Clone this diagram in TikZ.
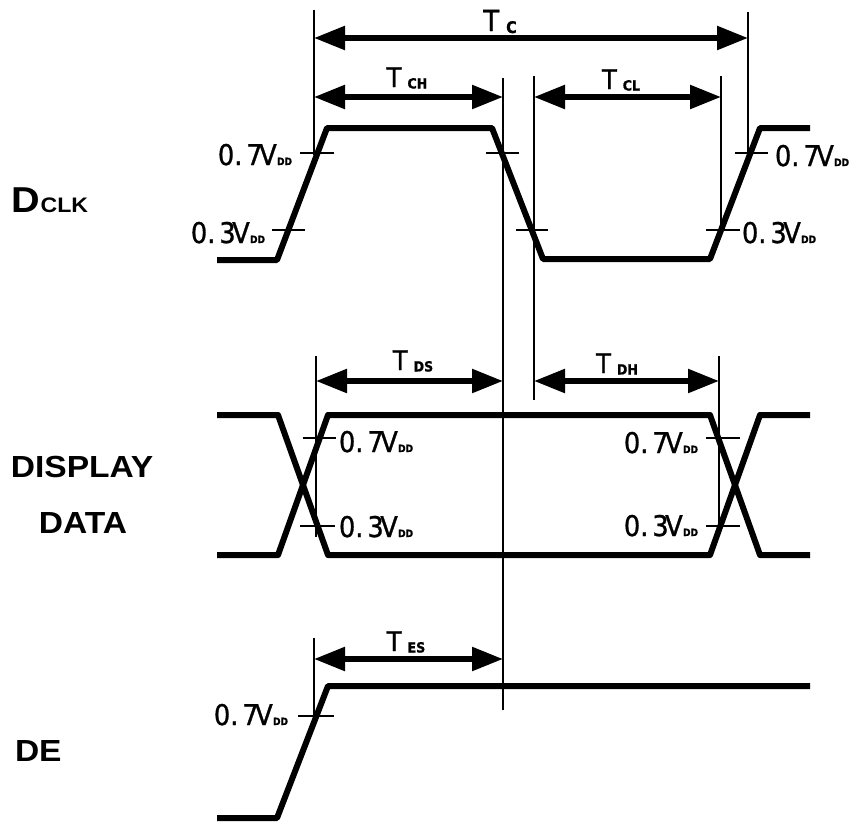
\documentclass[tikz,border=0pt]{standalone}
\usepackage{fontspec}
\usetikzlibrary{arrows.meta}
\newfontfamily\sigfont{Liberation Sans}[FakeStretch=1.1]
\newfontfamily\tmfont{DejaVu Sans}[FakeStretch=0.9,FakeBold=1]
\newcommand\myvdd[1]{{\tmfont\fontsize{28.5}{28.5}\selectfont 0.\kern4pt#1\kern-3.5pt V\kern0.3pt{\bfseries\fontsize{10}{10}\selectfont DD}}}
\newcommand\mytlab[1]{{\tmfont\fontsize{27}{27}\selectfont T\kern6pt\raisebox{-1.5pt}{\bfseries\fontsize{14}{14}\selectfont #1}}}
\begin{document}
\begin{tikzpicture}[x=1pt,y=-1pt,
  sig/.style={line width=6pt,line join=round},
  guide/.style={line width=1.3pt},
  dimarrow/.style={line width=5.5pt,{Triangle[length=31pt,width=23pt]}-{Triangle[length=31pt,width=23pt]}},
  lbl/.style={inner sep=0pt,outer sep=0pt}
]
\useasboundingbox (0,0) rectangle (851,822);

% ---------- left labels ----------
\node[lbl,anchor=base west] (ldclk) at (12,212) {\sigfont\bfseries\fontsize{36}{36}\selectfont D\fontsize{21}{21}\selectfont CLK};
\node[lbl,anchor=base] (ldisp) at (82,477) {\sigfont\bfseries\fontsize{30.5}{30.5}\selectfont DISPLAY};
\node[lbl,anchor=base] (ldata) at (83,533) {\sigfont\bfseries\fontsize{30.5}{30.5}\selectfont DATA};
\node[lbl,anchor=base west] (lde) at (15,761) {\sigfont\bfseries\fontsize{30.5}{30.5}\selectfont DE};

% ---------- guide lines ----------
\coordinate (gA1) at (314,10);  \coordinate (gA2) at (314,155);
\coordinate (gB1) at (748,12);  \coordinate (gB2) at (748,155);
\coordinate (gC1) at (503,78);  \coordinate (gC2) at (503,710);
\coordinate (gD1) at (534,76);  \coordinate (gD2) at (534,400);
\coordinate (gE1) at (721,76);  \coordinate (gE2) at (721,231);
\coordinate (gF1) at (316,356); \coordinate (gF2) at (316,537);
\coordinate (gG1) at (719,356); \coordinate (gG2) at (719,527);
\coordinate (gH1) at (314,638); \coordinate (gH2) at (314,720);
\foreach \a/\b in {gA1/gA2,gB1/gB2,gC1/gC2,gD1/gD2,gE1/gE2,gF1/gF2,gG1/gG2,gH1/gH2}
  \draw[guide] (\a) -- (\b);

% ---------- ticks ----------
\foreach \xa/\xb/\yy [count=\i] in {300/334/153, 272/305/230, 486/519/153, 516/548/230, 706/740/230, 735/768/153,
  303/336/438, 300/335/526, 706/740/438, 706/740/526, 298/334/716}{
  \coordinate (tk\i a) at (\xa,\yy); \coordinate (tk\i b) at (\xb,\yy);
  \draw[guide] (tk\i a) -- (tk\i b);
}

% ---------- signals ----------
\draw[sig] (217,260) -- (277,260) -- (327,128) -- (492,128) -- (543,259) -- (710,259) -- (760,128) -- (810,128);
\draw[sig] (217,415) -- (278,415) -- (328,555) -- (710,555) -- (760,415) -- (810,415);
\draw[sig] (217,555) -- (278,555) -- (328,415) -- (710,415) -- (760,555) -- (810,555);
\draw[sig] (217,818) -- (277,818) -- (328,686) -- (810,686);

% ---------- dimension arrows ----------
\coordinate (tcL) at (314,38);   \coordinate (tcR) at (748,38);
\coordinate (tchL) at (314,97);  \coordinate (tchR) at (503,97);
\coordinate (tclL) at (534,97);  \coordinate (tclR) at (721,97);
\coordinate (tdsL) at (316,381); \coordinate (tdsR) at (503,381);
\coordinate (tdhL) at (534,381); \coordinate (tdhR) at (719,381);
\coordinate (tesL) at (314,659); \coordinate (tesR) at (503,659);
\foreach \a/\b in {tcL/tcR,tchL/tchR,tclL/tclR,tdsL/tdsR,tdhL/tdhR,tesL/tesR}
  \draw[dimarrow] (\a) -- (\b);

% ---------- timing labels ----------
\node[lbl,anchor=base] (ttc)  at (500,31)  {\tmfont\fontsize{29}{29}\selectfont T\kern7pt\raisebox{-2pt}{\bfseries\fontsize{16}{16}\selectfont C}};
\node[lbl,anchor=base] (ttch) at (407,87)  {\mytlab{CH}};
\node[lbl,anchor=base] (ttcl) at (621,89)  {\mytlab{CL}};
\node[lbl,anchor=base] (ttds) at (413,370) {\mytlab{DS}};
\node[lbl,anchor=base] (ttdh) at (617,373) {\mytlab{DH}};
\node[lbl,anchor=base] (ttes) at (406,651) {\mytlab{ES}};

% ---------- level labels ----------
\node[lbl,anchor=base east] (v1) at (292,165) {\myvdd{7}};
\node[lbl,anchor=base east] (v2) at (265,243) {\myvdd{3}};
\node[lbl,anchor=base west] (v3) at (775,166) {\myvdd{7}};
\node[lbl,anchor=base west] (v4) at (742,243) {\myvdd{3}};
\node[lbl,anchor=base west] (v5) at (339,452) {\myvdd{7}};
\node[lbl,anchor=base west] (v6) at (339,537) {\myvdd{3}};
\node[lbl,anchor=base east] (v7) at (698,453) {\myvdd{7}};
\node[lbl,anchor=base east] (v8) at (698,536) {\myvdd{3}};
\node[lbl,anchor=base east] (v9) at (288,725) {\myvdd{7}};
\end{tikzpicture}
\end{document}
